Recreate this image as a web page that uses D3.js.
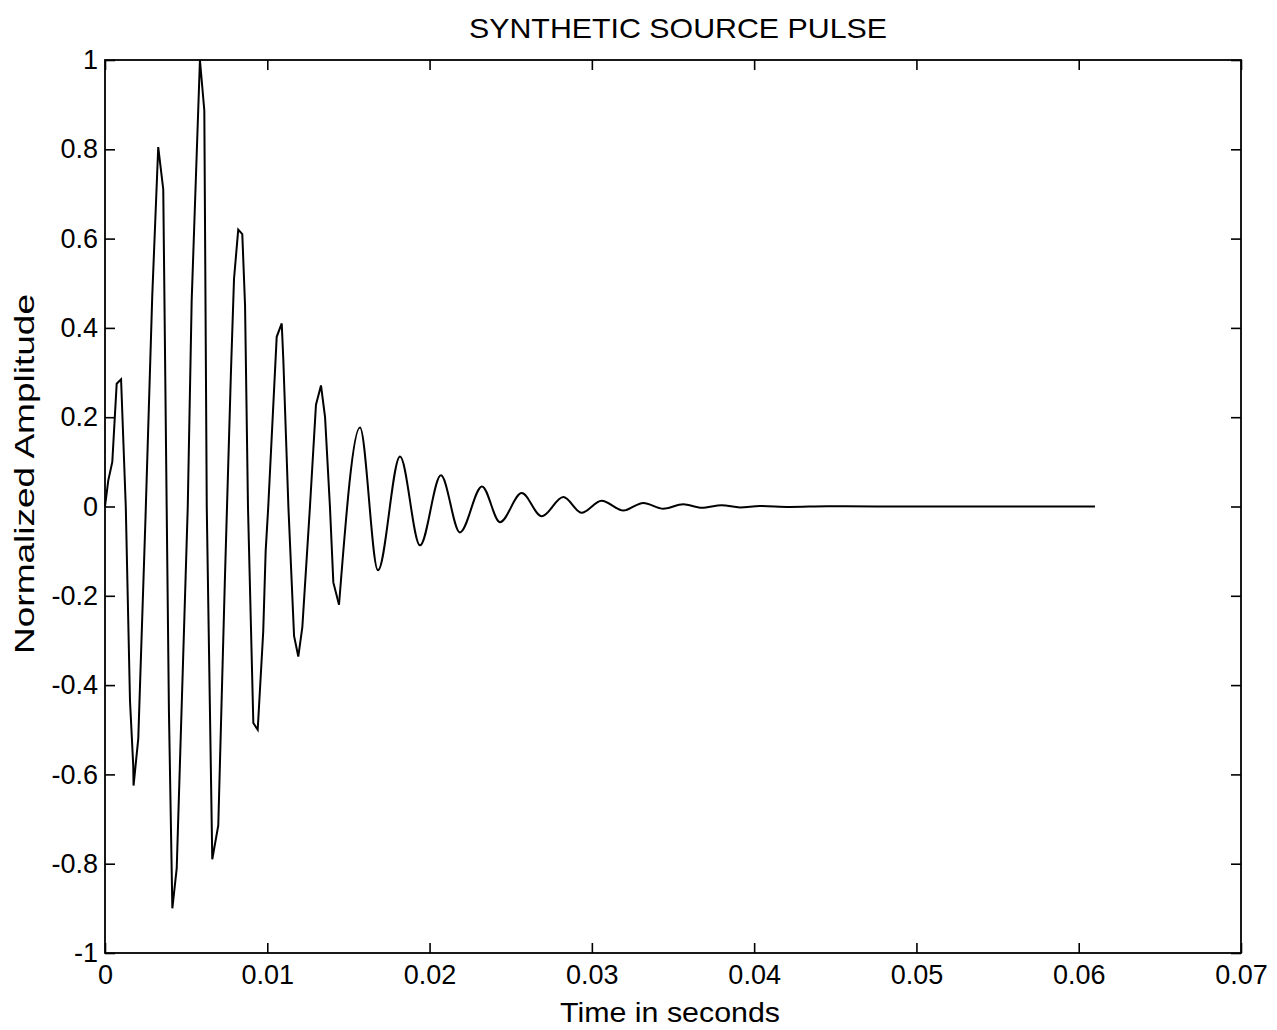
<!DOCTYPE html>
<html>
<head>
<meta charset="utf-8">
<script src="https://cdn.jsdelivr.net/npm/d3@7"></script>
<style>
  body { margin: 0; background: #fff; }
  text { font-family: "Liberation Sans", Arial, sans-serif; fill: #000; }
</style>
</head>
<body>
<svg id="canvas" width="1277" height="1030"></svg>
<script>
// sharp early part of the pulse, vertices (time in s, normalized amplitude)
const headTime = [0, 0.0002, 0.00045, 0.00072, 0.00099, 0.00128, 0.00154, 0.00174, 0.00176, 0.00205,
  0.0025, 0.00291, 0.00328, 0.00359, 0.0038, 0.00394, 0.00415, 0.00442, 0.0051, 0.00534,
  0.00585, 0.00612, 0.00627, 0.00661, 0.00698, 0.00739, 0.00776, 0.00795, 0.00821, 0.00846,
  0.00863, 0.00881, 0.00914, 0.00941, 0.00975, 0.0099, 0.01006, 0.01058, 0.01089, 0.01099,
  0.0113, 0.01165, 0.01191, 0.01216, 0.01263, 0.013, 0.01331, 0.01356, 0.01386, 0.01407, 0.01442]
const headAmp = [0, 0.058, 0.10, 0.275, 0.285, 0.0, -0.435, -0.58, -0.625, -0.52,
  -0.02, 0.47, 0.805, 0.71, 0.0, -0.46, -0.90, -0.81, 0.0, 0.46,
  1.0, 0.887, 0.0, -0.79, -0.714, -0.16, 0.30, 0.51, 0.62, 0.61,
  0.45, 0.0, -0.485, -0.50, -0.28, -0.10, 0.0, 0.38, 0.41, 0.327,
  0.0, -0.29, -0.336, -0.27, 0.0, 0.228, 0.271, 0.2, 0.0, -0.17, -0.22]

// smooth decaying tail: peaks and troughs
const tailTime = [0.01442, 0.01571, 0.01682, 0.01818, 0.01941, 0.0207, 0.02187, 0.02323, 0.02434, 0.02568,
  0.02691, 0.02824, 0.02937, 0.0306, 0.03194, 0.03317, 0.0344, 0.03563, 0.03677, 0.038,
  0.03913, 0.04036, 0.0422, 0.0445, 0.0475, 0.061]
const tailAmp = [-0.22, 0.177, -0.143, 0.112, -0.087, 0.07, -0.058, 0.045, -0.035, 0.030,
  -0.022, 0.021, -0.014, 0.013, -0.009, 0.008, -0.005, 0.005, -0.003, 0.003,
  -0.002, 0.001, -0.001, 0.0005, 0, 0]

const xTicks = [0, 0.01, 0.02, 0.03, 0.04, 0.05, 0.06, 0.07]
const xTickLabels = ["0", "0.01", "0.02", "0.03", "0.04", "0.05", "0.06", "0.07"]
const yTicks = [-1, -0.8, -0.6, -0.4, -0.2, 0, 0.2, 0.4, 0.6, 0.8, 1]
const yTickLabels = ["-1", "-0.8", "-0.6", "-0.4", "-0.2", "0", "0.2", "0.4", "0.6", "0.8", "1"]

const plotLeft = 105, plotRight = 1241, plotTop = 60, plotBottom = 953
const svg = d3.select("#canvas")

const xScale = d3.scaleLinear().domain([0, 0.07]).range([plotLeft, plotRight])
const yScale = d3.scaleLinear().domain([-1, 1]).range([plotBottom, plotTop])

const styleAxis = g => {
  g.select(".domain").remove()
  g.selectAll(".tick line").attr("stroke", "#000").attr("stroke-width", 1.6)
  g.selectAll(".tick text").style("font-size", "27px")
}

svg.append("g").attr("transform", `translate(0,${plotBottom})`)
  .call(d3.axisBottom(xScale).tickValues(xTicks).tickSize(-10).tickPadding(12)
    .tickFormat((d, i) => xTickLabels[i]))
  .call(styleAxis)
svg.append("g").attr("transform", `translate(0,${plotTop})`)
  .call(d3.axisTop(xScale).tickValues(xTicks).tickSize(-10).tickFormat(""))
  .call(styleAxis)
svg.append("g").attr("transform", `translate(${plotLeft},0)`)
  .call(d3.axisLeft(yScale).tickValues(yTicks).tickSize(-10).tickPadding(7)
    .tickFormat((d, i) => yTickLabels[i]))
  .call(styleAxis)
svg.append("g").attr("transform", `translate(${plotRight},0)`)
  .call(d3.axisRight(yScale).tickValues(yTicks).tickSize(-10).tickFormat(""))
  .call(styleAxis)

svg.append("rect")
  .attr("x", plotLeft).attr("y", plotTop)
  .attr("width", plotRight - plotLeft).attr("height", plotBottom - plotTop)
  .attr("fill", "none").attr("stroke", "#000").attr("stroke-width", 1.8)

const head = headTime.map((t, i) => [t, headAmp[i]])
const tail = tailTime.map((t, i) => [t, tailAmp[i]])

svg.append("path").datum(head)
  .attr("d", d3.line().x(d => xScale(d[0])).y(d => yScale(d[1])))
  .attr("fill", "none").attr("stroke", "#000").attr("stroke-width", 2)
svg.append("path").datum(tail)
  .attr("d", d3.line().curve(d3.curveMonotoneX).x(d => xScale(d[0])).y(d => yScale(d[1])))
  .attr("fill", "none").attr("stroke", "#000").attr("stroke-width", 2)

// the scanned lettering is wider than Arial, so stretch to the measured widths
svg.append("text").attr("x", 678).attr("y", 38).attr("text-anchor", "middle")
  .attr("textLength", 418).attr("lengthAdjust", "spacingAndGlyphs")
  .style("font-size", "28px").text("SYNTHETIC SOURCE PULSE")
svg.append("text").attr("x", 670).attr("y", 1022).attr("text-anchor", "middle")
  .attr("textLength", 220).attr("lengthAdjust", "spacingAndGlyphs")
  .style("font-size", "28px").text("Time in seconds")
svg.append("text").attr("transform", "translate(34,474) rotate(-90)").attr("text-anchor", "middle")
  .attr("textLength", 360).attr("lengthAdjust", "spacingAndGlyphs")
  .style("font-size", "28px").text("Normalized Amplitude")
</script>
</body>
</html>
